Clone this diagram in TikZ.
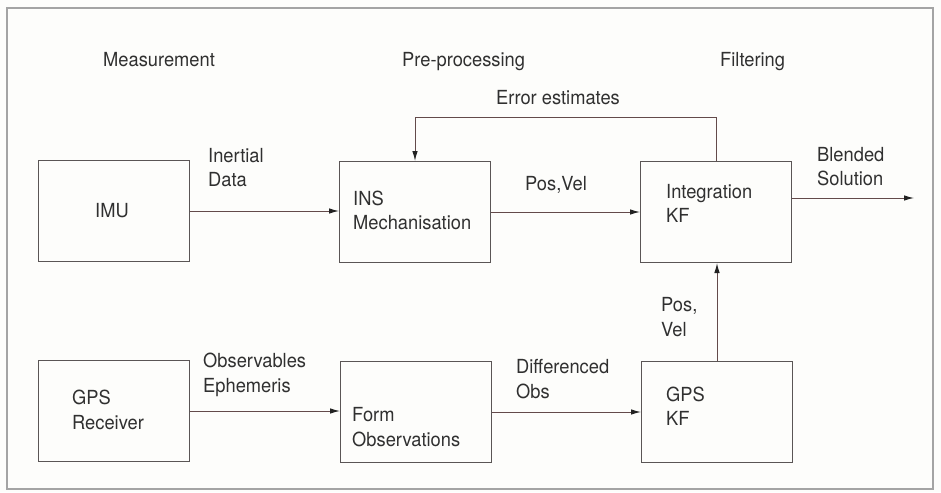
\documentclass[tikz,border=0pt]{standalone}
\usepackage{fontspec}
\setmainfont{TeX Gyre Heros}
\usetikzlibrary{arrows.meta}
\definecolor{ink}{HTML}{303030}
\definecolor{boxline}{HTML}{5A5555}
\definecolor{wire}{HTML}{634A4A}
\definecolor{tipfill}{HTML}{222222}
\definecolor{paper}{HTML}{FDFDFB}
\definecolor{rim}{HTML}{A4A4A4}
\begin{document}
\begin{tikzpicture}[x=1pt,y=-1pt,
  blk/.style={draw=boxline, line width=1pt, minimum width=151pt, minimum height=101pt,
              inner sep=0pt, anchor=north west},
  txt/.style={anchor=base west, inner sep=0pt, text=ink, yscale=1.06,
              font=\fontsize{18.3}{24}\selectfont},
  flow/.style={draw=wire, line width=1pt,
               -{Latex[length=10pt,width=5.5pt,color=tipfill]}}]

% page and outer frame
\useasboundingbox (0,0) rectangle (941,492);
\fill[paper] (0,0) rectangle (941,492);
\draw[rim, line width=1.1pt] (7,8) rectangle (933,489);

% column headings
\node[txt] (hMeas) at (103,67) {Measurement};
\node[txt] (hPre)  at (402,67) {Pre-processing};
\node[txt] (hFilt) at (720,67) {Filtering};

% blocks
\node[blk] (imu)  at (38,160)  {};
\node[blk] (ins)  at (339,161) {};
\node[blk] (ikf)  at (640,161) {};
\node[blk] (gpsr) at (38,360)  {};
\node[blk] (form) at (340,361) {};
\node[blk] (gkf)  at (641,361) {};

% block captions
\node[txt] (tIMU)  at (95,217)  {IMU};
\node[txt] (tINS)  at (353,205) {INS};
\node[txt] (tMech) at (353,229) {Mechanisation};
\node[txt] (tInt)  at (666,198) {Integration};
\node[txt] (tKF)   at (666,222) {KF};
\node[txt] (tGPS)  at (72,404)  {GPS};
\node[txt] (tRcv)  at (72,429)  {Receiver};
\node[txt] (tForm) at (352,421) {Form};
\node[txt] (tObsv) at (352,446) {Observations};
\node[txt] (tGPS2) at (666,401) {GPS};
\node[txt] (tKF2)  at (666,425) {KF};

% connector labels
\node[txt] (lIn1) at (208,162) {Inertial};
\node[txt] (lIn2) at (208,186) {Data};
\node[txt] (lPV)  at (525,190) {Pos,Vel};
\node[txt] (lErr) at (496,105) {Error estimates};
\node[txt] (lBl1) at (817,161) {Blended};
\node[txt] (lBl2) at (817,185) {Solution};
\node[txt] (lOb1) at (203,367) {Observables};
\node[txt] (lOb2) at (203,392) {Ephemeris};
\node[txt] (lDf1) at (516,373) {Differenced};
\node[txt] (lDf2) at (516,398) {Obs};
\node[txt] (lPV1) at (661,311) {Pos,};
\node[txt] (lPV2) at (661,336) {Vel};

% free ends
\coordinate (outEnd) at (914,198);
\coordinate (fbTurn) at (415,117);

% connectors
\draw[flow] (imu.east) -- (imu.east -| ins.west);
\draw[flow] (ins.east) -- (ins.east -| ikf.west);
\draw[flow] (ikf.north east |- outEnd) -- (outEnd);
\draw[flow] (ikf.north) |- (fbTurn) -- (fbTurn |- ins.north);
\draw[flow] (gpsr.east) -- (gpsr.east -| form.west);
\draw[flow] (form.east) -- (form.east -| gkf.west);
\draw[flow] (gkf.north) -- (gkf.north |- ikf.south);
\end{tikzpicture}
\end{document}
